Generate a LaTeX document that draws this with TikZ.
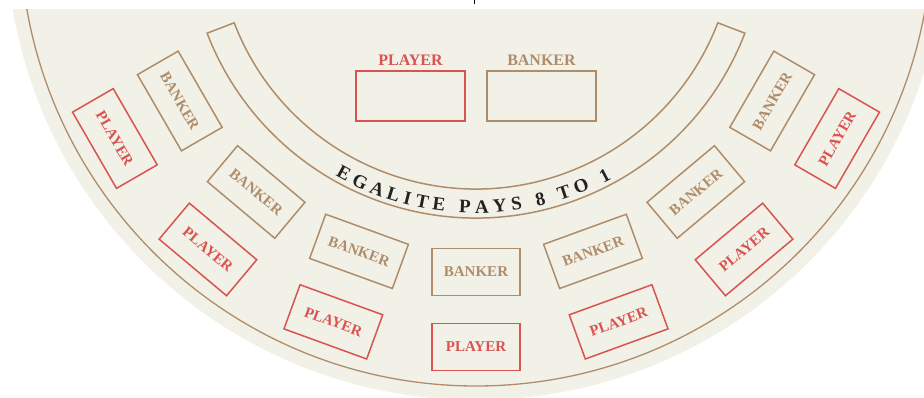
\documentclass[tikz,border=0pt]{standalone}
\usepackage{fontspec}
\setmainfont{Liberation Serif}
\usetikzlibrary{positioning}
\definecolor{feltcream}{RGB}{242,241,232}
\definecolor{playerred}{RGB}{217,83,79}
\definecolor{bankertan}{RGB}{176,141,106}
\definecolor{inkdark}{RGB}{34,34,34}
\tikzset{
  spotbox/.style={draw, line width=1.5pt, minimum width=88pt, minimum height=47pt,
    inner sep=0pt, font=\fontsize{15}{15}\selectfont\bfseries},
  playerspot/.style={spotbox, draw=playerred, text=playerred},
  bankerspot/.style={spotbox, draw=bankertan, text=bankertan},
  betbox/.style={draw, line width=1.5pt, minimum width=109pt, minimum height=50pt, inner sep=0pt},
  betlabel/.style={inner sep=0pt, font=\fontsize{16}{16}\selectfont\bfseries},
  arcletter/.style={inner sep=0pt, text=inkdark, font=\fontsize{19}{19}\selectfont\bfseries}
}
\begin{document}
\begin{tikzpicture}[x=1pt,y=1pt]
    \useasboundingbox (-476,-468) rectangle (448,-70);

    % Felt and rail line
    \begin{scope}
        \clip (-476,-468) rectangle (448,-80);
        \fill[feltcream] (0,0) circle (470pt);
        \draw[bankertan, line width=1.3pt] (0,0) circle (456pt);
    \end{scope}
    \draw[black, line width=1pt] (-1,-70) -- (-1,-74);

    % Egalite band
    \draw[bankertan, line width=1.5pt] (201:259pt) arc[start angle=201, end angle=339, radius=259pt]
        -- (339:288pt) arc[start angle=339, end angle=201, radius=288pt] -- cycle;
    \foreach \a/\ch [count=\i] in {241.5/E, 245.3/G, 249.1/A, 252.7/L, 255.7/I, 258.8/T, 262.3/E,
        267.7/P, 271.2/A, 274.9/Y, 278.4/S, 283.4/8, 288.5/T, 292.3/O, 297.7/1}
        \node[arcletter, rotate=\a+90] (egal\i) at (\a:277pt) {\ch};

    % Seat spots
    \foreach \a [count=\i] in {210,230,...,330} {
        \node[bankerspot, rotate=\a+90] (banker\i) at (\a:342pt) {BANKER};
        \node[playerspot, rotate=\a+90] (player\i) at (\a:417pt) {PLAYER};
    }

    % Main bets
    \node[betbox, draw=playerred] (playerbet) at (-65.5,-166) {};
    \node[betbox, draw=bankertan] (bankerbet) at (65.5,-166) {};
    \node[betlabel, text=playerred, above=5pt of playerbet] (playerlabel) {PLAYER};
    \node[betlabel, text=bankertan, above=5pt of bankerbet] (bankerlabel) {BANKER};
\end{tikzpicture}
\end{document}
